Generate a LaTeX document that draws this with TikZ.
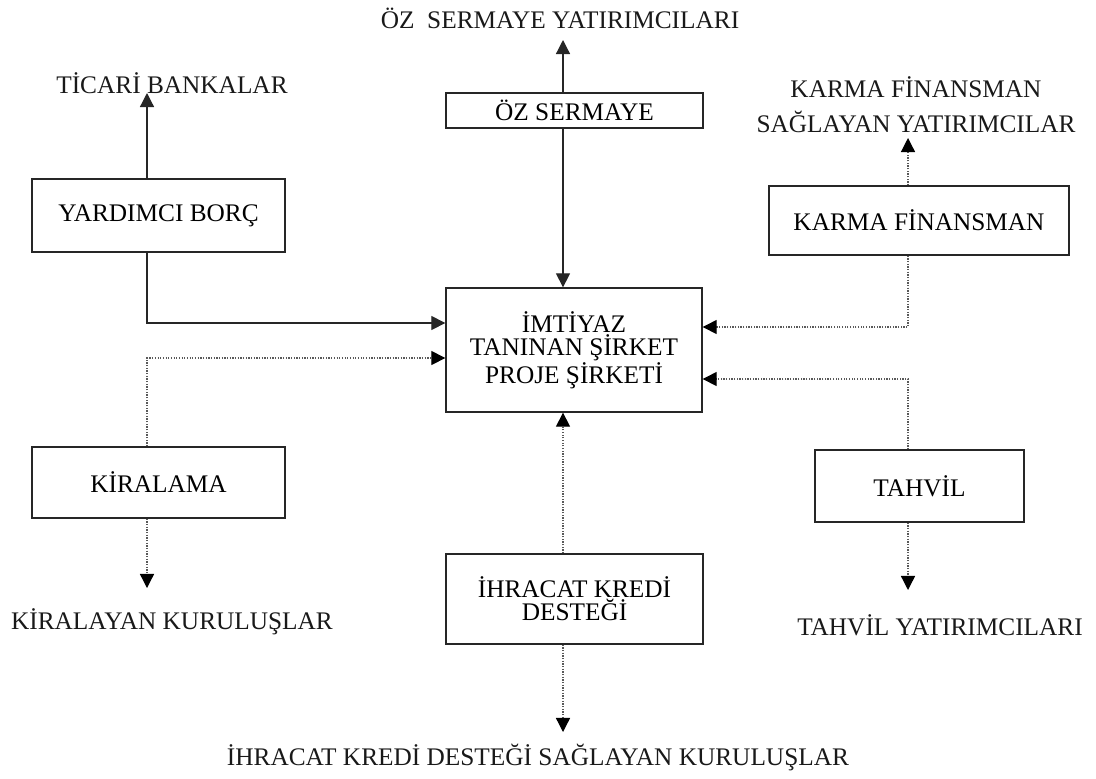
\documentclass[tikz,border=0pt]{standalone}
\usepackage{fontspec}
\setmainfont{Liberation Serif}
\usetikzlibrary{arrows.meta}

\begin{document}
\begin{tikzpicture}[x=0.025cm,y=-0.025cm,font=\fontsize{18}{16.5}\selectfont,
	blok/.style={draw=black!85, line width=0.9pt, align=center, inner sep=0pt},
	yazi/.style={align=center, inner sep=0pt, text=black!90},
	duz/.style={black!85, line width=0.9pt, -{Triangle[length=10pt,width=10pt]}},
	nokta/.style={black!65, line width=0.9pt, densely dotted, -{Triangle[length=10pt,width=10pt,color=black]}}]
	\useasboundingbox (0,0) rectangle (1096,778);

	\coordinate (solK) at (147,0);
	\coordinate (ortaK) at (563,0);
	\coordinate (sagK) at (908,0);
	\coordinate (s1) at (0,323);
	\coordinate (s2) at (0,358);
	\coordinate (s3) at (0,327);
	\coordinate (s4) at (0,379);

	\node[blok, minimum width=6.425cm, minimum height=0.875cm] at (574.5,110.5) (ozs) {ÖZ SERMAYE};
	\node[blok, minimum width=6.4cm, minimum height=3.1cm] at (574,350) (sirket) {İMTİYAZ\\TANINAN ŞİRKET\\PROJE ŞİRKETİ};
	\node[blok, minimum width=6.325cm, minimum height=1.825cm] at (158.5,215.5) (yb) {YARDIMCI BORÇ};
	\node[blok, minimum width=6.325cm, minimum height=1.775cm] at (158.5,482.5) (kir) {KİRALAMA};
	\node[blok, minimum width=6.425cm, minimum height=2.25cm] at (574.5,599) (ihr) {İHRACAT KREDİ\\DESTEĞİ};
	\node[blok, minimum width=7.5cm, minimum height=1.725cm] at (919,220.5) (karma) {KARMA FİNANSMAN};
	\node[blok, minimum width=5.225cm, minimum height=1.8cm] at (919.5,486) (tahvil) {TAHVİL};

	\node[yazi] at (560,18) (ozsy) {ÖZ\ \ SERMAYE YATIRIMCILARI};
	\node[yazi] at (172,83) (tbank) {TİCARİ BANKALAR};
	\node[yazi] at (172,622) (kkur) {KİRALAYAN KURULUŞLAR};
	\node[yazi] at (538,757) (iks) {İHRACAT KREDİ DESTEĞİ SAĞLAYAN KURULUŞLAR};
	\node[yazi, font=\fontsize{18}{25}\selectfont] at (916,104.5) (karmay) {KARMA FİNANSMAN\\SAĞLAYAN YATIRIMCILAR};
	\node[yazi] at (940,625) (tyat) {TAHVİL YATIRIMCILARI};

	\coordinate (ucOz) at (563,40);
	\coordinate (ucTb) at (147,93);
	\coordinate (ucKk) at (147,588);
	\coordinate (ucIk) at (563,732);
	\coordinate (ucKy) at (908,138);
	\coordinate (ucTy) at (908,590);

	\draw[duz] (ozs.north -| ortaK) -- (ucOz);
	\draw[duz] (ozs.south -| ortaK) -- (sirket.north -| ortaK);
	\draw[duz] (yb.north -| solK) -- (ucTb);
	\draw[duz] (yb.south -| solK) |- (sirket.west |- s1);

	\draw[nokta] (kir.north -| solK) |- (sirket.west |- s2);
	\draw[nokta] (kir.south -| solK) -- (ucKk);
	\draw[nokta] (ihr.north -| ortaK) -- (sirket.south -| ortaK);
	\draw[nokta] (ihr.south -| ortaK) -- (ucIk);

	\draw[nokta] (karma.north -| sagK) -- (ucKy);
	\draw[nokta] (karma.south -| sagK) |- (sirket.east |- s3);
	\draw[nokta] (tahvil.north -| sagK) |- (sirket.east |- s4);
	\draw[nokta] (tahvil.south -| sagK) -- (ucTy);
\end{tikzpicture}
\end{document}
